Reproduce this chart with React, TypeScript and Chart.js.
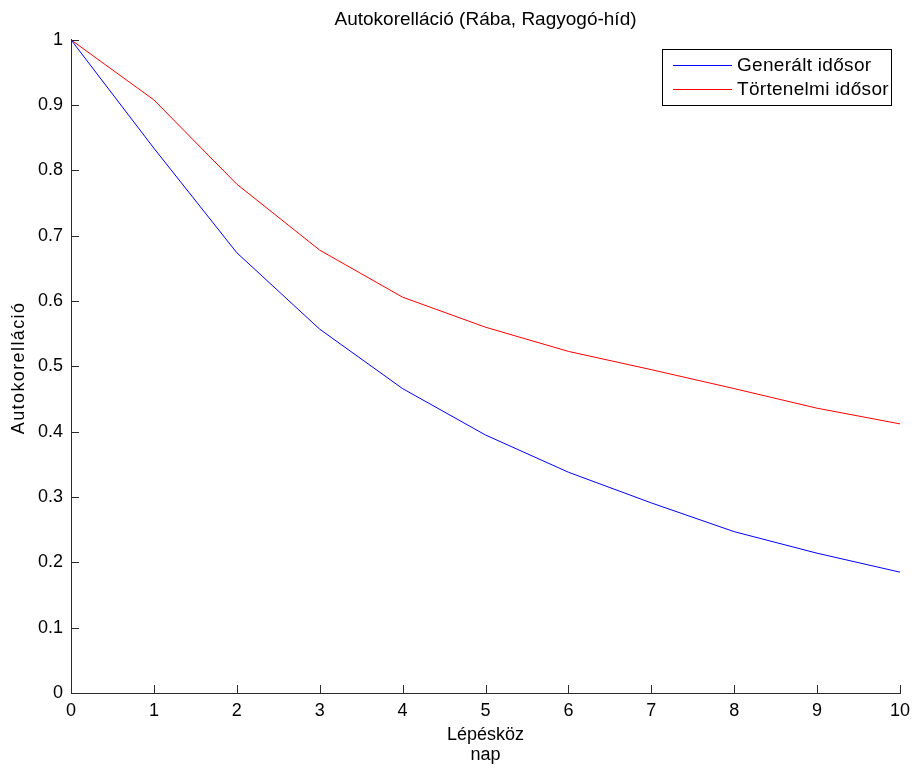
import React, { useEffect, useRef } from "react";
import { Chart, registerables } from "chart.js";

Chart.register(...registerables);

const lags = [0, 1, 2, 3, 4, 5, 6, 7, 8, 9, 10];
const generated = [1, 0.834, 0.674, 0.557, 0.466, 0.395, 0.338, 0.291, 0.247, 0.214, 0.185];
const historical = [1, 0.908, 0.779, 0.678, 0.606, 0.56, 0.523, 0.495, 0.466, 0.436, 0.412];
const seriesLabels = ["Generált idősor", "Törtenelmi idősor"];
const titleText = "Autokorelláció (Rába, Ragyogó-híd)";
const xTitle = ["Lépésköz", "nap"];
const yTitle = "Autokorelláció";

const FONT = "'Liberation Sans', Arial, Helvetica, sans-serif";
const AXIS = "#2b2b2b";

const innerTicks = {
  id: "innerTicks",
  afterDraw(chart: any) {
    const ctx = chart.ctx;
    const xs = chart.scales.x;
    const ys = chart.scales.y;
    const a = chart.chartArea;
    ctx.save();
    ctx.strokeStyle = AXIS;
    ctx.lineWidth = 1;
    ctx.beginPath();
    xs.ticks.forEach((t: any) => {
      const px = Math.round(xs.getPixelForValue(t.value)) + 0.5;
      ctx.moveTo(px, a.bottom);
      ctx.lineTo(px, a.bottom - 8);
    });
    ys.ticks.forEach((t: any) => {
      const py = Math.round(ys.getPixelForValue(t.value)) + 0.5;
      ctx.moveTo(a.left, py);
      ctx.lineTo(a.left + 8, py);
    });
    ctx.stroke();
    ctx.restore();
  },
};

const yAxisTitle = {
  id: "yAxisTitle",
  afterDraw(chart: any) {
    const ctx = chart.ctx;
    const a = chart.chartArea;
    ctx.save();
    ctx.font = `18px ${FONT}`;
    try {
      (ctx as any).letterSpacing = "1.4px";
    } catch (e) {}
    ctx.fillStyle = "#000";
    ctx.textAlign = "center";
    ctx.textBaseline = "middle";
    ctx.translate(19.5, (a.top + a.bottom) / 2 + 1.5);
    ctx.rotate(-Math.PI / 2);
    ctx.fillText(yTitle, 0, 0);
    ctx.restore();
  },
};

const boxLegend = {
  id: "boxLegend",
  afterDraw(chart: any) {
    const ctx = chart.ctx;
    const a = chart.chartArea;
    const ds = chart.data.datasets;
    ctx.save();
    ctx.font = `19px ${FONT}`;
    try {
      (ctx as any).letterSpacing = "0.3px";
    } catch (e) {}
    let maxW = 0;
    ds.forEach((d: any) => {
      maxW = Math.max(maxW, ctx.measureText(d.label).width);
    });
    const rowH = 24;
    const w = 75 + maxW + 2;
    const h = 16 + rowH * (ds.length - 1) + 16;
    const right = Math.round(a.right - 9);
    const left = Math.round(right - w);
    const top = Math.round(a.top + 9);
    ctx.fillStyle = "#ffffff";
    ctx.fillRect(left, top, right - left, h);
    ctx.strokeStyle = "#000000";
    ctx.lineWidth = 1;
    ctx.strokeRect(left + 0.5, top + 0.5, right - left, h);
    ds.forEach((d: any, i: number) => {
      const cy = top + 16 + i * rowH;
      ctx.strokeStyle = d.borderColor;
      ctx.beginPath();
      ctx.moveTo(left + 11, cy + 0.5);
      ctx.lineTo(left + 70, cy + 0.5);
      ctx.stroke();
      ctx.fillStyle = "#000000";
      ctx.textBaseline = "middle";
      ctx.textAlign = "left";
      ctx.fillText(d.label, left + 75, cy + 1);
    });
    ctx.restore();
  },
};

export default function App() {
  const ref = useRef<HTMLCanvasElement | null>(null);

  useEffect(() => {
    if (!ref.current) return;
    const chart = new Chart(ref.current, {
      type: "line",
      data: {
        datasets: [
          {
            label: seriesLabels[0],
            data: lags.map((x, i) => ({ x, y: generated[i] })),
            borderColor: "#0000ff",
            borderWidth: 1,
            pointRadius: 0,
            tension: 0,
            fill: false,
          },
          {
            label: seriesLabels[1],
            data: lags.map((x, i) => ({ x, y: historical[i] })),
            borderColor: "#ff0000",
            borderWidth: 1,
            pointRadius: 0,
            tension: 0,
            fill: false,
          },
        ],
      },
      options: {
        animation: false,
        responsive: false,
        devicePixelRatio: 1,
        layout: { padding: { left: 0, right: 15, top: 0, bottom: 0 } },
        plugins: {
          legend: { display: false },
          tooltip: { enabled: false },
          title: {
            display: true,
            text: titleText,
            fullSize: false,
            color: "#000",
            font: { family: FONT, size: 19, weight: "normal", lineHeight: 1.2 },
            padding: { top: 8, bottom: 9 },
          },
        },
        scales: {
          x: {
            type: "linear",
            min: 0,
            max: 10,
            afterFit: (s: any) => {
              s.height = 76;
              s.paddingRight = 0;
              s.paddingLeft = 0;
            },
            grid: { display: false, drawTicks: false },
            border: { display: true, color: AXIS, width: 1 },
            ticks: {
              stepSize: 1,
              padding: 7,
              color: "#000",
              font: { family: FONT, size: 18 },
              maxRotation: 0,
              callback: (v: any) => String(v),
            },
            title: {
              display: true,
              text: xTitle,
              color: "#000",
              font: { family: FONT, size: 18, lineHeight: 1.1 },
              padding: { top: 0, bottom: 4 },
            },
          },
          y: {
            type: "linear",
            min: 0,
            max: 1,
            afterFit: (s: any) => {
              s.width = 71;
            },
            grid: { display: false, drawTicks: false },
            border: { display: true, color: AXIS, width: 1 },
            ticks: {
              stepSize: 0.1,
              padding: 8,
              color: "#000",
              font: { family: FONT, size: 18 },
              callback: (v: any) => String(Math.round(Number(v) * 10) / 10),
            },
            title: { display: false },
          },
        },
      },
      plugins: [innerTicks, yAxisTitle, boxLegend],
    });
    return () => chart.destroy();
  }, []);

  return (
    <div style={{ position: "fixed", left: 0, top: 0, width: 915, height: 769, background: "#fff" }}>
      <canvas ref={ref} width={915} height={769} style={{ display: "block" }} />
    </div>
  );
}
